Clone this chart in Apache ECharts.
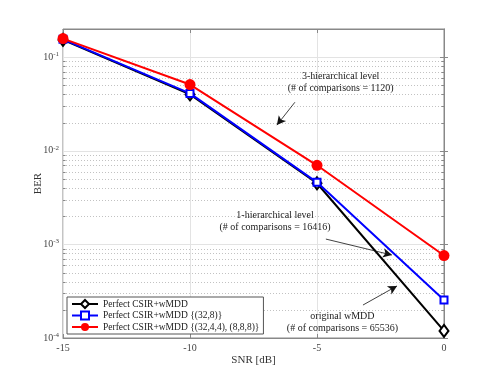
<!DOCTYPE html>
<html><head><meta charset="utf-8">
<script src="https://cdn.jsdelivr.net/npm/echarts@6/dist/echarts.min.js"></script>
<style>html,body{margin:0;padding:0;background:#fff}#c{width:491px;height:380px}</style>
</head><body><div id="c"></div>
<script>
const snr = [-15, -10, -5, 0];
const berOriginal = [0.153, 0.040, 0.0045, 1.19e-4];
const berLevel1 = [0.155, 0.041, 0.0046, 2.55e-4];
const berLevel3 = [0.158, 0.051, 0.0070, 7.6e-4];
const seriesNames = ['Perfect CSIR+wMDD', 'Perfect CSIR+wMDD {(32,8)}', 'Perfect CSIR+wMDD {(32,4,4), (8,8,8)}'];
const xTicks = [-15, -10, -5, 0];
const minorY = [2e-4,3e-4,4e-4,5e-4,6e-4,7e-4,8e-4,9e-4,2e-3,3e-3,4e-3,5e-3,6e-3,7e-3,8e-3,9e-3,2e-2,3e-2,4e-2,5e-2,6e-2,7e-2,8e-2,9e-2];
const arrows = [
  [[-5.87, 0.033], [-6.58, 0.0188]],
  [[-4.65, 0.00114], [-2.05, 7.7e-4]],
  [[-3.19, 2.25e-4], [-1.85, 3.6e-4]]
];
const notes = [
  {lines: ['3-hierarchical level', '(# of comparisons = 1120)'], at: [-4.07, 0.0535]},
  {lines: ['1-hierarchical level', '(# of comparisons = 16416)'], at: [-6.65, 0.00177]},
  {lines: ['original wMDD', '(# of comparisons = 65536)'], at: [-4.0, 1.46e-4]}
];
const serif = 'Liberation Serif';
const pairs = a => snr.map((x, i) => [x, a[i]]);
const chart = echarts.init(document.getElementById('c'));
const tickLabel = {color: '#444', fontFamily: serif, fontSize: 10};
chart.setOption({
  animation: false,
  grid: {left: 63, right: 47, top: 29, bottom: 42, show: true, borderColor: '#888', borderWidth: 1, backgroundColor: 'transparent'},
  legend: {
    left: 67, top: 297, orient: 'vertical', itemWidth: 26, itemHeight: 10, itemGap: 1.5,
    padding: [2, 4, 2, 4], borderColor: '#555', borderWidth: 1, backgroundColor: '#fff',
    textStyle: {fontFamily: serif, fontSize: 9.5, color: '#222'},
    data: seriesNames
  },
  xAxis: [{
    type: 'value', min: -15, max: 0, interval: 5,
    name: 'SNR [dB]', nameLocation: 'middle', nameGap: 17, nameMoveOverlap: false,
    nameTextStyle: {fontFamily: serif, fontSize: 11, color: '#333'},
    axisLine: {show: true, lineStyle: {color: '#888'}},
    axisTick: {inside: true, length: 4, lineStyle: {color: '#888'}},
    axisLabel: Object.assign({margin: 5, formatter: v => xTicks.includes(v) ? String(v) : ''}, tickLabel),
    splitLine: {show: true, lineStyle: {color: '#e3e3e3', width: 1}}
  }, {
    type: 'value', min: -15, max: 0, interval: 5, position: 'top',
    axisLine: {show: true, lineStyle: {color: '#888'}},
    axisTick: {inside: true, length: 4, lineStyle: {color: '#888'}},
    axisLabel: {show: false}, splitLine: {show: false}
  }],
  yAxis: [{
    type: 'log', logBase: 10, min: 1e-4, max: 0.2, interval: 1,
    name: 'BER', nameLocation: 'middle', nameGap: 19, nameRotate: 90, nameMoveOverlap: false,
    nameTextStyle: {fontFamily: serif, fontSize: 11, color: '#333'},
    axisLine: {show: true, lineStyle: {color: '#888'}},
    axisTick: {inside: true, length: 4, lineStyle: {color: '#888'}},
    axisLabel: {
      margin: 4, showMaxLabel: false,
      formatter: v => {
        const e = Math.round(Math.log10(v));
        if (Math.abs(Math.log10(v) - e) > 1e-6) return '';
        return '{b|10}{e|' + e + '}';
      },
      rich: {
        b: {fontFamily: serif, fontSize: 10, color: '#444'},
        e: {fontFamily: serif, fontSize: 7, color: '#444', padding: [0, 0, 6, 0]}
      }
    },
    splitLine: {show: true, lineStyle: {color: '#e3e3e3', width: 1}}
  }, {
    type: 'log', logBase: 10, min: 1e-4, max: 0.2, interval: 1, position: 'right',
    axisLine: {show: true, lineStyle: {color: '#888'}},
    axisTick: {inside: true, length: 4, lineStyle: {color: '#888'}},
    axisLabel: {show: false}, splitLine: {show: false}
  }],
  series: [{
    type: 'custom', silent: true, z: 1, clip: false,
    data: minorY.map(v => [snr[0], v]),
    renderItem: (params, api) => {
      const v = api.value(1);
      const a = api.coord([snr[0], v]);
      const b = api.coord([snr[snr.length - 1], v]);
      const y = Math.round(a[1]) + 0.5;
      return {type: 'group', children: [
        {type: 'line', shape: {x1: a[0], y1: y, x2: b[0], y2: y}, style: {stroke: '#c2c2c2', lineDash: [1, 2], lineWidth: 1}},
        {type: 'line', shape: {x1: a[0], y1: y, x2: a[0] + 2.5, y2: y}, style: {stroke: '#888', lineWidth: 1}},
        {type: 'line', shape: {x1: b[0] - 2.5, y1: y, x2: b[0], y2: y}, style: {stroke: '#888', lineWidth: 1}}
      ]};
    }
  }, {
    name: seriesNames[0], type: 'line', z: 3, data: pairs(berOriginal),
    symbol: 'diamond', symbolSize: [9, 12], lineStyle: {color: '#000', width: 2},
    itemStyle: {color: '#fff', borderColor: '#000', borderWidth: 2}
  }, {
    name: seriesNames[1], type: 'line', z: 4, data: pairs(berLevel1),
    symbol: 'rect', symbolSize: 7, lineStyle: {color: '#0000ff', width: 2},
    itemStyle: {color: '#fff', borderColor: '#0000ff', borderWidth: 2},
    markLine: {
      silent: true, symbol: ['none', 'arrow'], symbolSize: [7, 9], animation: false,
      lineStyle: {color: '#111', type: 'solid', width: 0.8}, label: {show: false},
      data: arrows.map(a => [{coord: a[0]}, {coord: a[1]}])
    }
  }, {
    name: seriesNames[2], type: 'line', z: 5, data: pairs(berLevel3),
    symbol: 'circle', symbolSize: 11, lineStyle: {color: '#ff0000', width: 2},
    itemStyle: {color: '#ff0000', borderColor: '#ff0000', borderWidth: 0},
    markPoint: {
      silent: true, symbol: 'circle', symbolSize: 0,
      label: {show: true, position: 'inside', fontFamily: serif, fontSize: 10, color: '#222', lineHeight: 12, align: 'center', verticalAlign: 'middle'},
      data: notes.map(n => ({coord: n.at, value: n.lines.join('\n'), label: {formatter: n.lines.join('\n')}}))
    }
  }]
});
</script></body></html>
